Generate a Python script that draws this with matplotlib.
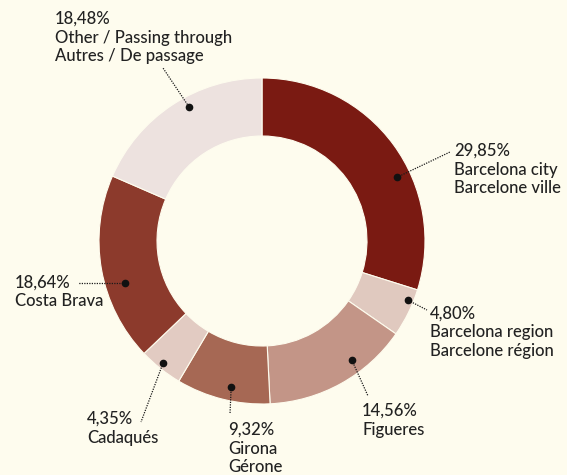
import numpy as np
import matplotlib.pyplot as plt

# Données
values = [29.85, 4.80, 14.56, 9.32, 4.35, 18.64, 18.48]
names = ['Barcelona city\nBarcelone ville',
         'Barcelona region\nBarcelone région',
         'Figueres',
         'Girona\nGérone',
         'Cadaqués',
         'Costa Brava',
         'Other / Passing through\nAutres / De passage']
colors = ['#7A1A12', '#E0C9BF', '#C39587', '#A66854', '#E2CBC2', '#8C3A2C', '#EDE2DF']

# Mise en page (pixels, origine en haut à gauche)
W, H = 567, 475
cx, cy, r_out, r_in = 262, 241, 163, 105
dot_shift = [-11, 4, 8, 2, -0.5, 7, -4.7]      # décalage angulaire du point
dot_r = [149, 158, 149, 149, 157, 143, 153]
line_end = [(450, 152), (427, 310), (368, 396), (230, 414), (141, 422), (78, 283), (163, 68)]
text_pos = [(454, 156), (430, 319), (362, 416), (228, 435), (87, 424), (15, 288), (55, 24)]
line_step = 18.5

bg = '#FEFCEE'
plt.rcParams['font.family'] = ['Lato', 'DejaVu Sans']

fig = plt.figure(figsize=(W / 100, H / 100), dpi=100, facecolor=bg)
ax = fig.add_axes([0, 0, 1, 1])
ax.set_facecolor(bg)

wedges, _ = ax.pie(values, colors=colors, startangle=90, counterclock=False,
                   center=(cx, H - cy), radius=r_out, frame=True,
                   wedgeprops=dict(width=r_out - r_in, edgecolor=bg, linewidth=0.8))
ax.set_xlim(0, W)
ax.set_ylim(0, H)
ax.axis('off')

for i, w in enumerate(wedges):
    mid = np.deg2rad((w.theta1 + w.theta2) / 2 + dot_shift[i])
    dx = cx + dot_r[i] * np.cos(mid)
    dy = (H - cy) + dot_r[i] * np.sin(mid)
    ex, ey = line_end[i]
    ax.plot([dx, ex], [dy, H - ey], color='#1A1A1A', linestyle=(0, (1, 1)), linewidth=0.9)
    ax.plot(dx, dy, 'o', color='#111111', markersize=4.5)
    pct = f"{values[i]:.2f}".replace('.', ',') + '%'
    tx, ty = text_pos[i]
    for k, line in enumerate([pct] + names[i].split('\n')):
        ax.text(tx, H - ty - k * line_step, line, ha='left', va='baseline',
                fontsize=12, fontweight='medium', color='#222222')

fig.savefig('out.png', dpi=100, facecolor=bg)
